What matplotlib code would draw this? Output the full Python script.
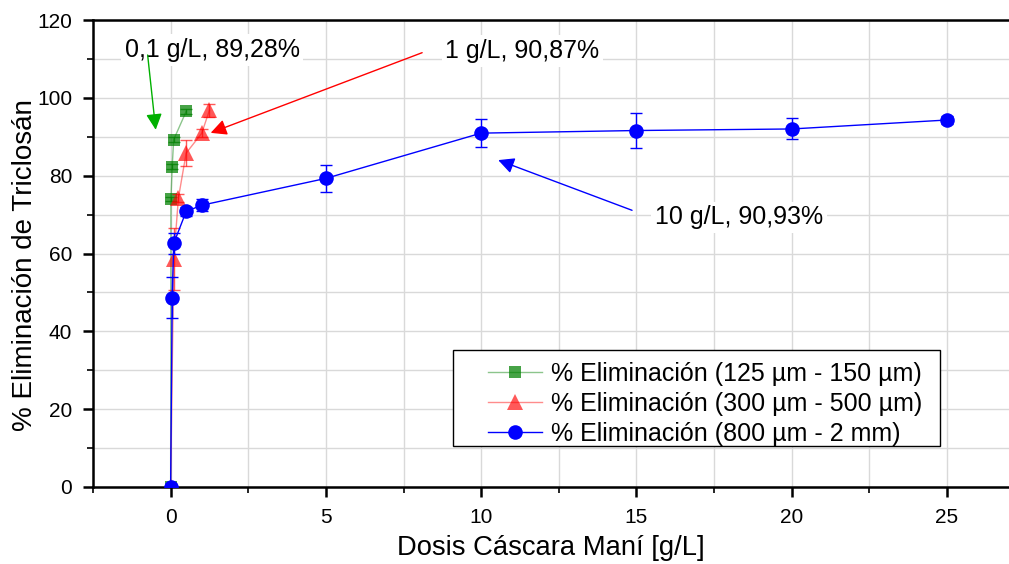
import numpy as np
import matplotlib.pyplot as plt
from matplotlib.ticker import MultipleLocator
from matplotlib.patches import Rectangle

plt.rcParams['font.family'] = ['Liberation Sans', 'DejaVu Sans']

# 125 um - 150 um
x_fina = [0, 0.01, 0.05, 0.1, 0.5]
y_fina = [0, 74.0, 82.3, 89.28, 96.5]
e_fina = [0, 0.6, 0.6, 0.6, 0.6]

# 300 um - 500 um
x_media = [0, 0.1, 0.25, 0.5, 1.0, 1.25]
y_media = [0, 58.5, 74.2, 85.8, 90.87, 96.8]
e_media = [0, 8.0, 1.0, 3.3, 1.0, 1.7]

# 800 um - 2 mm
x_gruesa = [0, 0.05, 0.1, 0.5, 1, 5, 10, 15, 20, 25]
y_gruesa = [0, 48.6, 62.6, 70.8, 72.4, 79.3, 90.93, 91.6, 92.0, 94.3]
e_gruesa = [0, 5.3, 2.7, 1.2, 1.5, 3.4, 3.6, 4.6, 2.7, 1.0]

labels = ['% Eliminación (125 µm - 150 µm)',
          '% Eliminación (300 µm - 500 µm)',
          '% Eliminación (800 µm - 2 mm)']

W, H = 1009, 564
fig = plt.figure(figsize=(W / 100, H / 100), dpi=100)
ax = fig.add_axes([93/W, 1 - 487/H, (W - 93)/W, (487 - 20)/H])

series = [
    (x_fina, y_fina, e_fina, (0, 0.5, 0), 0.45, 0.72, 's', 9),
    (x_media, y_media, e_media, (1, 0, 0), 0.45, 0.65, '^', 11),
    (x_gruesa, y_gruesa, e_gruesa, (0, 0, 1), 1.0, 1.0, 'o', 10.5),
]
for i, (x, y, e, c, a_lin, a_mk, m, ms) in enumerate(series):
    ax.errorbar(x, y, yerr=e, fmt='none', ecolor=(*c, a_mk), capsize=4.5,
                elinewidth=1, zorder=3 + i)
    ax.plot(x, y, color=(*c, a_lin), marker=m, markersize=ms, lw=1,
            markerfacecolor=(*c, a_mk), markeredgewidth=0,
            label=labels[i], zorder=3 + i)

# etiquetas
box = dict(boxstyle='square,pad=0.15', fc='white', ec='none')
ax.text(-1.48, 112.3, '0,1 g/L, 89,28%', fontsize=18, va='center', zorder=6, bbox=box)
ax.text(8.85, 112.0, '1 g/L, 90,87%', fontsize=18, va='center', zorder=6, bbox=box)
ax.text(15.6, 69.3, '10 g/L, 90,93%', fontsize=18, va='center', zorder=6, bbox=box)

# flechas
arrows = [((-0.74, 111.0), (-0.48, 91.8), '#00b000'),
          ((8.1, 111.6), (1.29, 91.0), '#ff0000'),
          ((14.86, 71.1), (10.55, 84.0), '#0000ff')]
for start, tip, c in arrows:
    ax.annotate('', xy=tip, xytext=start, zorder=7,
                arrowprops=dict(arrowstyle='-|>', color=c, lw=1, mutation_scale=24,
                                shrinkA=0, shrinkB=0))

ax.set_xlim(-2.5, 27)
ax.set_ylim(0, 120)
ax.xaxis.set_major_locator(MultipleLocator(5))
ax.xaxis.set_minor_locator(MultipleLocator(2.5))
ax.yaxis.set_major_locator(MultipleLocator(20))
ax.yaxis.set_minor_locator(MultipleLocator(10))
ax.grid(True, which='both', color='#d9d9d9', lw=1)
ax.set_axisbelow(True)
ax.tick_params(which='major', direction='out', length=7, width=1.8, labelsize=15, pad=8)
ax.tick_params(which='minor', direction='out', length=4, width=1.2)
for s in ax.spines.values():
    s.set_linewidth(1.8)
ax.spines['right'].set_visible(False)

ax.set_xlabel('Dosis Cáscara Maní [g/L]', fontsize=19.7, labelpad=6)
ax.set_ylabel('% Eliminación de Triclosán', fontsize=20)
ax.yaxis.set_label_coords(-0.06, 0.475)

# leyenda con marco propio
fig.add_artist(Rectangle((453/W, 1 - 446/H), (940 - 453)/W, (446 - 350)/H,
                         transform=fig.transFigure, fc='white', ec='black',
                         lw=1, zorder=4))
leg = fig.legend(loc='upper left', bbox_to_anchor=(488/W, 1 - 362/H), fontsize=18,
                 frameon=False, handlelength=2.16, borderpad=0, borderaxespad=0,
                 labelspacing=0.24, handletextpad=0.36)
leg.set_zorder(5)

fig.savefig('out.png', dpi=100)
